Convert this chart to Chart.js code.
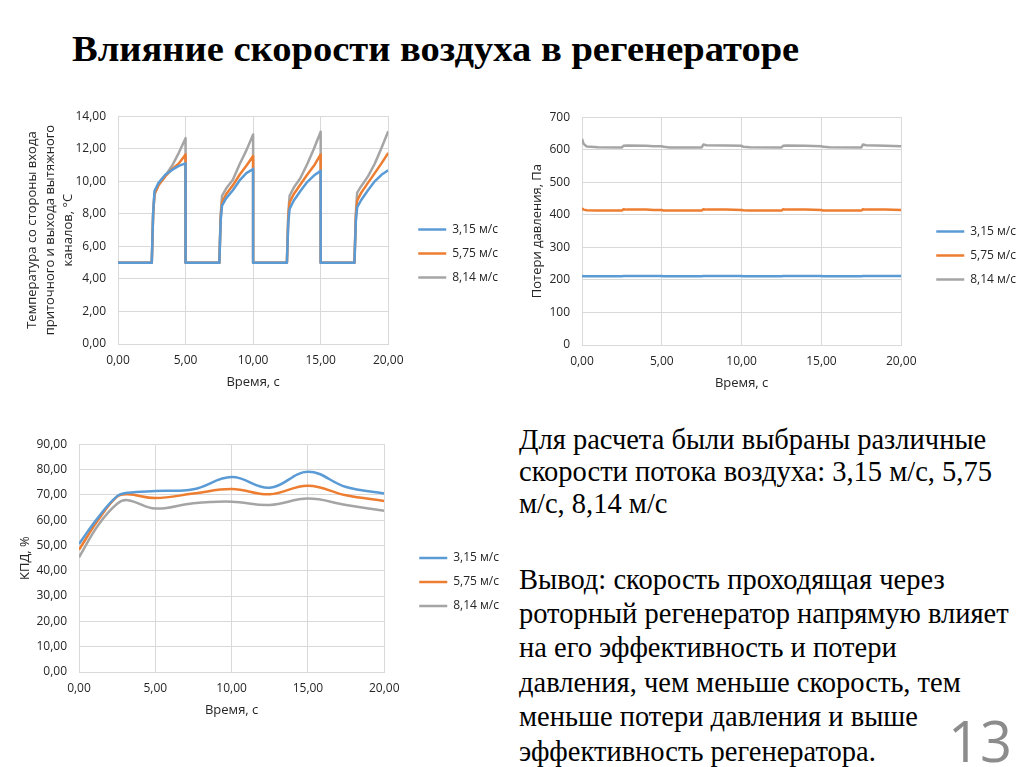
<!DOCTYPE html>
<html>
<head>
<meta charset="utf-8">
<script src="https://cdn.jsdelivr.net/npm/chart.js@4.4.1/dist/chart.umd.min.js"></script>
<style>
  body { margin: 0; width: 1024px; height: 767px; background: #fff; position: relative; overflow: hidden; }
  canvas { position: absolute; }
  #title { position: absolute; left: 72px; top: 31px; font: bold 36px "Liberation Serif"; line-height: 36px; white-space: nowrap; color: #000; transform-origin: 0 0; transform: scaleX(1.07); }
  .txt { position: absolute; left: 519px; font-family: "Liberation Serif"; font-size: 28.5px; white-space: nowrap; color: #000; }
  #p1 { top: 424px; line-height: 32px; }
  #p2 { top: 562.6px; line-height: 34.4px; }
  #num { position: absolute; left: 948px; top: 712px; font: 56px "Open Sans"; line-height: 56px; color: #8c8c8c; }
</style>
</head>
<body>
<div id="title">Влияние скорости воздуха в регенераторе</div>
<canvas id="temp-chart" width="500" height="303" style="left:15px;top:97px"></canvas>
<canvas id="press-chart" width="510" height="305" style="left:520px;top:98px"></canvas>
<canvas id="eff-chart" width="496" height="304" style="left:15px;top:425px"></canvas>
<div class="txt" id="p1">Для расчета были выбраны различные<br>скорости потока воздуха: 3,15 м/с, 5,75<br>м/с, 8,14 м/с</div>
<div class="txt" id="p2">Вывод: скорость проходящая через<br>роторный регенератор напрямую влияет<br>на его эффективность и потери<br>давления, чем меньше скорость, тем<br>меньше потери давления и выше<br>эффективность регенератора.</div>
<div id="num">13</div>
<script>
const seriesNames = ['3,15 м/с', '5,75 м/с', '8,14 м/с'];
const colors = ['#5b9bd5', '#ed7d31', '#a5a5a5'];

// temperature, °C
const tempTime = [0, 2.5, 2.6, 2.7, 3.0, 3.5, 4.0, 4.5, 5.0, 5.0,
  7.5, 7.6, 7.7, 8.0, 8.5, 9.0, 9.5, 10.0, 10.0,
  12.5, 12.6, 12.7, 13.0, 13.5, 14.0, 14.5, 15.0, 15.0,
  17.5, 17.6, 17.7, 18.0, 18.5, 19.0, 19.5, 20.0];
const tempBlue = [5, 5, 8.0, 9.4, 9.9, 10.4, 10.7, 10.95, 11.1, 5,
  5, 7.6, 8.5, 8.95, 9.45, 10.05, 10.5, 10.75, 5,
  5, 7.4, 8.3, 8.8, 9.4, 9.95, 10.35, 10.64, 5,
  5, 7.5, 8.4, 8.85, 9.45, 10.0, 10.4, 10.68];
const tempOrange = [5, 5, 8.0, 9.2, 9.75, 10.3, 10.75, 11.1, 11.65, 5,
  5, 7.8, 8.7, 9.2, 9.75, 10.4, 10.95, 11.55, 5,
  5, 7.7, 8.7, 9.2, 9.8, 10.4, 10.95, 11.65, 5,
  5, 7.8, 8.8, 9.3, 9.9, 10.5, 11.1, 11.75];
const tempGray = [5, 5, 8.0, 9.2, 9.8, 10.35, 10.95, 11.75, 12.65, 5,
  5, 8.0, 9.1, 9.55, 10.1, 11.05, 11.9, 12.88, 5,
  5, 8.0, 9.1, 9.6, 10.2, 11.05, 12.0, 13.04, 5,
  5, 8.0, 9.3, 9.7, 10.3, 11.08, 12.05, 13.08];

// pressure loss, Pa
const pressTime = [0, 0.1, 0.3, 1, 2.5, 2.6, 2.8, 4.0, 4.5, 5.0, 5.1, 5.5, 7.5, 7.6, 7.8, 9.0,
  10.0, 10.1, 10.5, 12.5, 12.6, 12.8, 14, 15, 15.1, 15.5, 17.5, 17.6, 17.8, 19, 20];
const pressBlue = [212, 211, 211, 211, 211, 212, 212, 212, 212, 212, 211, 211, 211, 212, 212, 212,
  212, 211, 211, 211, 212, 212, 212, 212, 211, 211, 211, 212, 212, 212, 212];
const pressOrange = [420, 416, 414, 413, 413, 417, 416, 416, 415, 415, 413, 413, 413, 417, 416, 416,
  415, 414, 413, 413, 417, 416, 416, 415, 413, 413, 413, 417, 416, 416, 415];
const pressGray = [633, 618, 610, 608, 607, 612, 613, 612, 611, 611, 609, 607, 607, 616, 614, 613,
  612, 609, 608, 607, 612, 613, 612, 611, 609, 608, 607, 616, 614, 612, 611];

// efficiency, %
const effTime = [0, 1.25, 2.5, 3.2, 5, 7.5, 10, 12.5, 15, 17.5, 20];
const effBlue = [50.6, 61, 69.5, 70.8, 71.5, 72.2, 77.0, 72.8, 79.1, 73.1, 70.5];
const effOrange = [48.3, 60, 69.3, 70.2, 68.7, 70.5, 72.3, 70.2, 73.6, 69.8, 67.6];
const effGray = [45.3, 58, 66.5, 67.9, 64.6, 66.7, 67.3, 66.0, 68.5, 66.0, 63.7];

const fontFamily = '"Open Sans"';
const textColor = '#262626';
const gridColor = '#d9d9d9';
const comma2 = v => v.toFixed(2).replace('.', ',');

// push legend items away from the plot without moving the plot
const legendGap = {
  id: 'legendGap',
  afterInit(chart, args, opts) {
    const lg = chart.legend;
    const fit = lg.fit;
    lg.fit = function () { fit.call(this); this.width += opts.gap; };
  },
  afterLayout(chart, args, opts) { chart.legend.left += opts.gap; }
};

const toXY = (xs, ys) => xs.map((x, i) => ({x: x, y: ys[i]}));

const makeChart = (id, cfg) => {
  const datasets = cfg.series.map((ys, i) => ({
    label: seriesNames[i],
    data: toXY(cfg.time, ys),
    borderColor: colors[i],
    backgroundColor: colors[i],
    borderWidth: 2.5,
    pointRadius: 0,
    tension: cfg.tension,
    borderJoinStyle: 'round'
  }));
  const options = {
    responsive: false,
    animation: false,
    layout: {padding: {top: 10, right: cfg.padRight, left: 0, bottom: 0}},
    plugins: {
      tooltip: {enabled: false},
      legendGap: {gap: cfg.gap},
      legend: {
        position: 'right',
        labels: {usePointStyle: true, pointStyle: 'line', pointStyleWidth: 28, padding: 12,
          color: textColor, font: {family: fontFamily, size: 12}}
      }
    },
    scales: {
      x: {
        type: 'linear', min: 0, max: 20,
        ticks: {stepSize: 5, callback: comma2, padding: 9, maxRotation: 0, color: textColor,
          font: {family: fontFamily, size: 12}},
        grid: {color: gridColor, drawTicks: false},
        border: {color: gridColor},
        title: {display: true, text: 'Время, с', color: textColor, padding: {bottom: cfg.xTitlePad},
          font: {family: fontFamily, size: 13, lineHeight: 1.4}},
        afterFit: s => { s.height = cfg.xHeight; }
      },
      y: {
        min: cfg.yMin, max: cfg.yMax,
        ticks: {stepSize: cfg.yStep, callback: cfg.yFmt, padding: 12, color: textColor,
          font: {family: fontFamily, size: 12}},
        grid: {color: gridColor, drawTicks: false},
        border: {color: gridColor},
        title: {display: true, text: cfg.yTitle, color: textColor, padding: {top: cfg.yTitlePad},
          font: {family: fontFamily, size: 13, lineHeight: 1.4}},
        afterFit: s => { s.width = cfg.yWidth; }
      }
    }
  };
  const canvas = document.getElementById(id).getContext('2d');
  new Chart(canvas, {type: 'line', data: {datasets: datasets}, options: options, plugins: [legendGap]});
};

makeChart('temp-chart', {
  time: tempTime, series: [tempBlue, tempOrange, tempGray], tension: 0,
  yMin: 0, yMax: 14, yStep: 2, yFmt: comma2,
  yTitle: ['Температура со стороны входа', 'приточного и выхода вытяжного', 'каналов, °С'],
  yWidth: 103, yTitlePad: 8, xHeight: 56, xTitlePad: 9, padRight: 7, gap: 18
});

makeChart('press-chart', {
  time: pressTime, series: [pressBlue, pressOrange, pressGray], tension: 0,
  yMin: 0, yMax: 700, yStep: 100, yFmt: v => String(v),
  yTitle: 'Потери давления, Па',
  yWidth: 62, yTitlePad: 8, xHeight: 58, xTitlePad: 11, padRight: 4, gap: 23
});

makeChart('eff-chart', {
  time: effTime, series: [effBlue, effOrange, effGray], tension: 0.4,
  yMin: 0, yMax: 90, yStep: 10, yFmt: comma2,
  yTitle: 'КПД, %',
  yWidth: 64, yTitlePad: 1, xHeight: 57, xTitlePad: 10, padRight: 2, gap: 23
});
</script>
</body>
</html>
